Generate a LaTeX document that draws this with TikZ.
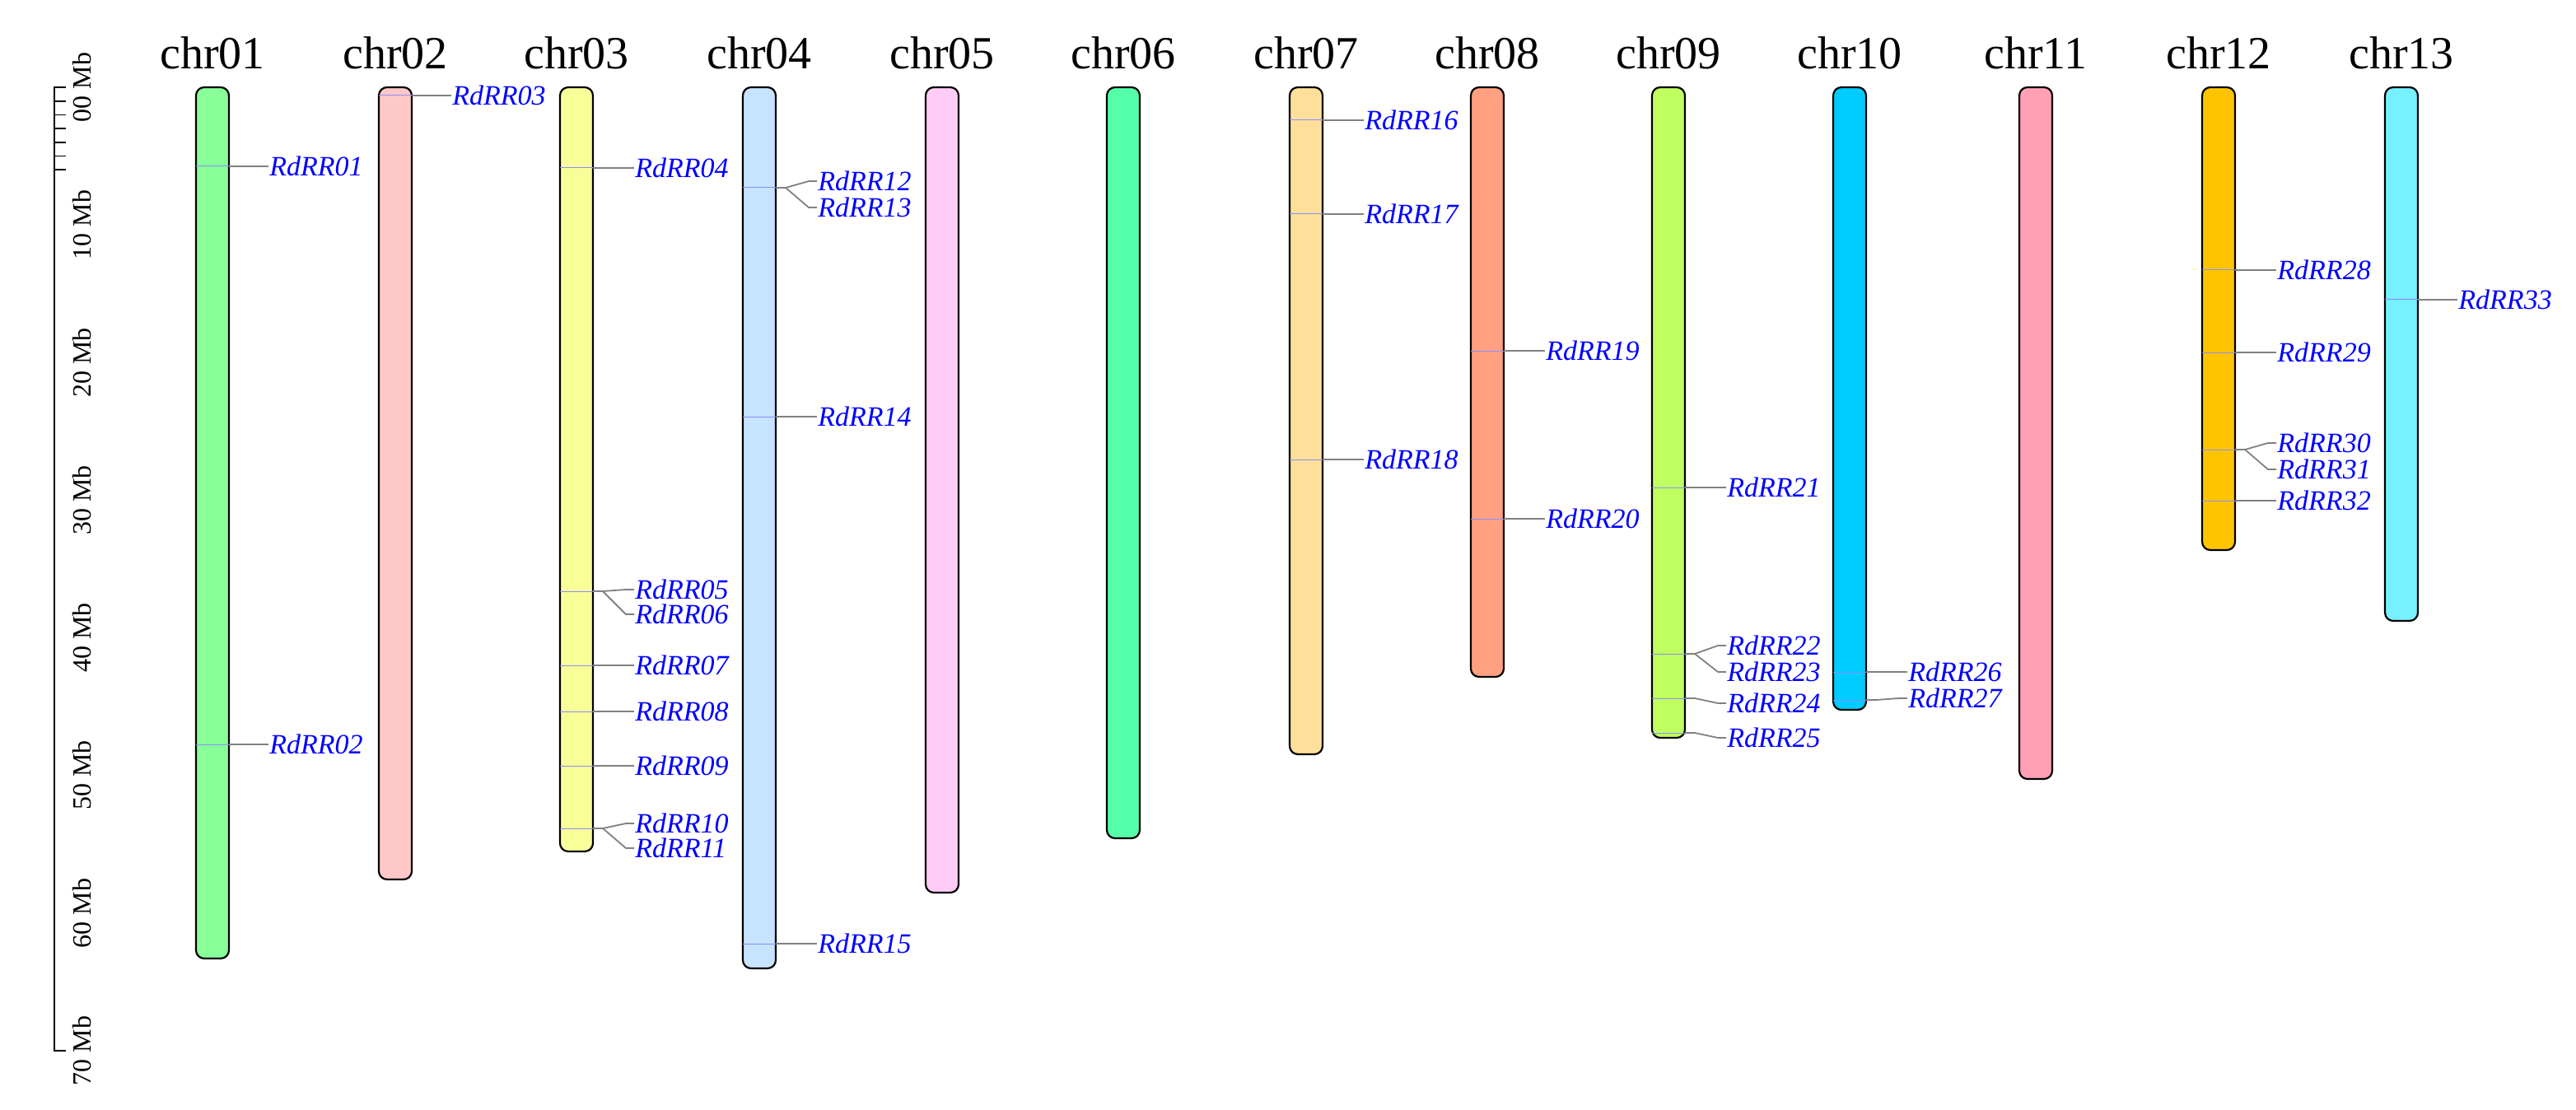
\documentclass[tikz,border=0pt]{standalone}
\usepackage{fontspec}
\setmainfont{Liberation Serif}
\begin{document}
\begin{tikzpicture}[x=1pt,y=-1pt,
  chrom/.style={draw=black,line width=1.1pt,rounded corners=5pt},
  ttl/.style={font=\fontsize{28}{30}\selectfont,inner sep=0pt},
  lab/.style={font=\fontsize{17}{18}\selectfont\itshape,text=blue,inner sep=0.5pt,anchor=west},
  ax/.style={font=\fontsize{16}{17}\selectfont,inner sep=0pt,rotate=90},
  lead/.style={draw=gray,line width=0.9pt},
  mk/.style={draw=blue!45,line width=0.5pt}]
\useasboundingbox (0,0) rectangle (1564,674);
\definecolor{c1}{HTML}{88FF99}\definecolor{c2}{HTML}{FFC8C8}\definecolor{c3}{HTML}{F8FF99}
\definecolor{c4}{HTML}{C6E4FF}\definecolor{c5}{HTML}{FFCCF8}\definecolor{c6}{HTML}{55FFAA}
\definecolor{c7}{HTML}{FFE09A}\definecolor{c8}{HTML}{FFA080}\definecolor{c9}{HTML}{BFFF60}
\definecolor{c10}{HTML}{00CCFF}\definecolor{c11}{HTML}{FFA0B4}\definecolor{c12}{HTML}{FFC400}
\definecolor{c13}{HTML}{77F0FF}
% axis
\draw[line width=0.9pt] (40,53) -- (33,53) -- (33,638) -- (40,638);
\foreach \k in {1,...,6} \draw[line width=0.9pt] (33,53+8.357*\k) -- (40,53+8.357*\k);
\foreach \k in {0,...,7} \node[ax] (ax\k) at (50,53+83.57*\k) {\k0 Mb};
\node[ax] at (50,53) {\phantom{0}};
% chromosomes
\foreach \n/\x/\b in {01/129/582,02/240/534,03/350/517,04/461/588,05/572/542,06/682/509,07/793/458,08/903/411,09/1013/448,10/1123/431,11/1236/473,12/1347/334,13/1458/377}{
  \pgfmathtruncatemacro\ci{\n}
  \filldraw[chrom,fill=c\ci] (\x-10,53) rectangle (\x+10,\b);
  \node[ttl] (chr\n) at (\x,32) {chr\n};
}
% genes: chr x, line y, label x, label y, id
\newcommand\gn[5]{%
  \coordinate (m#5) at (#1+10,#2);
  \node[lab] (g#5) at (#3,#4) {RdRR#5};
  \draw[mk] (#1-10,#2) -- (m#5);
  \draw[lead] (m#5) -- ++(6,0) -- (#3-5,#4) -- (g#5.west);}
\gn{129}{101}{163}{101}{01}
\gn{129}{452}{163}{452}{02}
\gn{240}{58}{274}{58}{03}
\gn{350}{102}{385}{102}{04}
\gn{350}{359}{385}{358}{05}
\gn{350}{359}{385}{373}{06}
\gn{350}{404}{385}{404}{07}
\gn{350}{432}{385}{432}{08}
\gn{350}{465}{385}{465}{09}
\gn{350}{503}{385}{500}{10}
\gn{350}{503}{385}{515}{11}
\gn{461}{114}{496}{110}{12}
\gn{461}{114}{496}{126}{13}
\gn{461}{253}{496}{253}{14}
\gn{461}{573}{496}{573}{15}
\gn{793}{73}{828}{73}{16}
\gn{793}{130}{828}{130}{17}
\gn{793}{279}{828}{279}{18}
\gn{903}{213}{938}{213}{19}
\gn{903}{315}{938}{315}{20}
\gn{1013}{296}{1048}{296}{21}
\gn{1013}{397}{1048}{392}{22}
\gn{1013}{397}{1048}{408}{23}
\gn{1013}{424}{1048}{427}{24}
\gn{1013}{445}{1048}{448}{25}
\gn{1123}{408}{1158}{408}{26}
\gn{1123}{425}{1158}{424}{27}
\gn{1347}{164}{1382}{164}{28}
\gn{1347}{214}{1382}{214}{29}
\gn{1347}{273}{1382}{269}{30}
\gn{1347}{273}{1382}{285}{31}
\gn{1347}{304}{1382}{304}{32}
\gn{1458}{182}{1492}{182}{33}
\end{tikzpicture}
\end{document}
